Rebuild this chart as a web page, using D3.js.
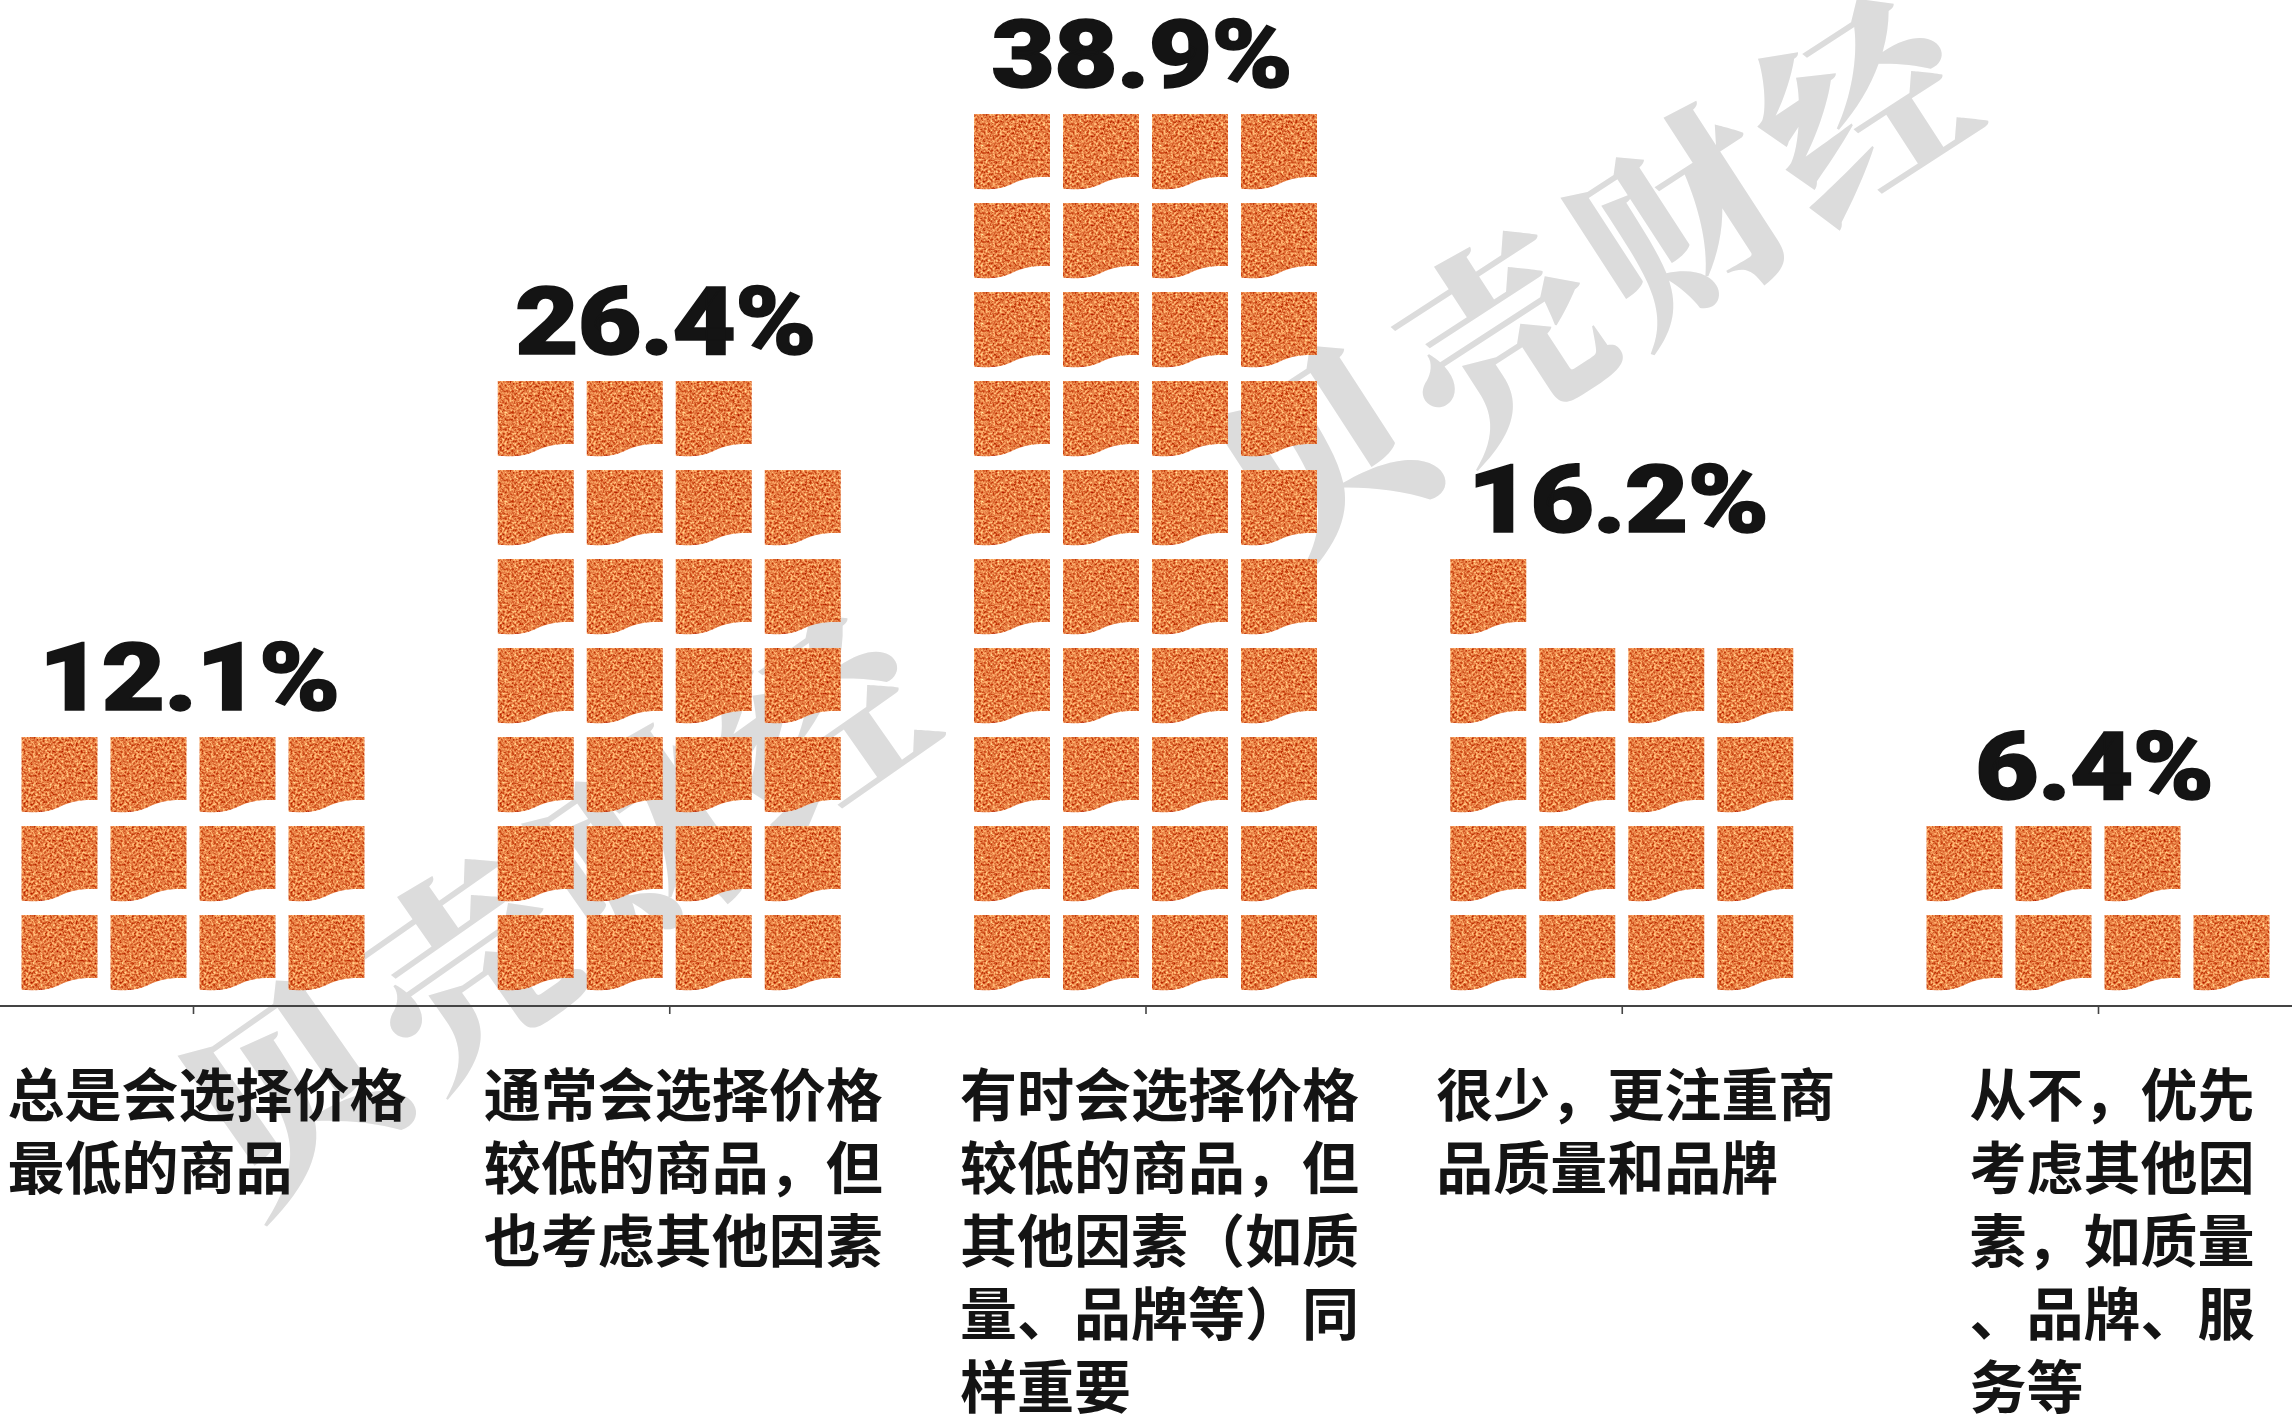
<!DOCTYPE html>
<html>
<head>
<meta charset="utf-8">
<script src="https://cdn.jsdelivr.net/npm/d3@7"></script>
<style>
  html, body { margin: 0; padding: 0; background: #fff; }
  svg { display: block; }
</style>
</head>
<body>
<div id="chart"></div>
<script>
// survey answers, share of respondents and how many tiles the original stacks
var categories = ["总是", "通常", "有时", "很少", "从不"];
var percents = [12.1, 26.4, 38.9, 16.2, 6.4];
var tileCounts = [12, 27, 40, 17, 7];
var labelLines = [
    ["总是会选择价格", "最低的商品"],
    ["通常会选择价格", "较低的商品，但", "也考虑其他因素"],
    ["有时会选择价格", "较低的商品，但", "其他因素（如质", "量、品牌等）同", "样重要"],
    ["很少，更注重商", "品质量和品牌"],
    ["从不，优先", "考虑其他因", "素，如质量", "、品牌、服", "务等"]
];
var watermarkText = "贝壳财经";

var width = 2292,
    height = 1417,
    perRow = 4,
    pitch = 89,
    tileW = 76,
    tileH = 76,
    axisY = 1006,
    firstRowTop = 915;

var svg = d3.select("#chart")
    .append("svg")
    .attr("width", width)
    .attr("height", height);

// grainy orange fill
var defs = svg.append("defs");
var filter = defs.append("filter")
    .attr("id", "grain")
    .attr("color-interpolation-filters", "sRGB")
    .attr("x", 0).attr("y", 0).attr("width", 1).attr("height", 1);
filter.append("feTurbulence")
    .attr("type", "fractalNoise")
    .attr("baseFrequency", 0.42)
    .attr("numOctaves", 2)
    .attr("seed", 7)
    .attr("result", "noise");
filter.append("feColorMatrix")
    .attr("in", "noise")
    .attr("type", "matrix")
    .attr("values",
        "0.6 0 0 0 0.6 " +
        "1.2 0 0 0 -0.11 " +
        "1.0 0 0 0 -0.24 " +
        "0 0 0 0 1")
    .attr("result", "tint");
filter.append("feComposite")
    .attr("in", "tint")
    .attr("in2", "SourceGraphic")
    .attr("operator", "in");

// watermark sits behind everything
var wm = svg.append("g").attr("class", "watermark");
[[552, 895, -35], [1589, 270, -33]].forEach(function(w) {
    wm.append("text")
        .attr("transform", "translate(" + w[0] + "," + w[1] + ") rotate(" + w[2] + ")")
        .attr("text-anchor", "middle")
        .attr("dominant-baseline", "central")
        .style("font-family", "'Noto Serif CJK SC', 'Noto Sans CJK SC', sans-serif")
        .style("font-weight", 900)
        .style("font-size", "205px")
        .style("letter-spacing", "10px")
        .attr("fill", "#dcdcdc")
        .text(watermarkText);
});

// Scales
var x = d3.scalePoint()
    .domain(categories)
    .range([193, 2098]);

var row = d3.scaleLinear()
    .domain([0, 1])
    .range([firstRowTop, firstRowTop - pitch]);

var col = d3.scaleLinear()
    .domain([0, perRow - 1])
    .range([-1.5 * pitch, 1.5 * pitch]);

// tile outline: flat top, wavy bottom that dips on the left
function tilePath(w, h) {
    return "M0,0H" + w + "V" + (h * 0.83) +
        "C" + (w * 0.78) + "," + (h * 0.82) + " " + (w * 0.64) + "," + (h * 0.85) + " " + (w * 0.5) + "," + (h * 0.92) +
        "C" + (w * 0.36) + "," + (h * 0.99) + " " + (w * 0.18) + "," + (h * 1.0) + " 0," + (h * 0.985) + "Z";
}

var tiles = [];
categories.forEach(function(c, i) {
    for (var k = 0; k < tileCounts[i]; k++) {
        tiles.push({ cat: c, r: Math.floor(k / perRow), c: k % perRow });
    }
});

svg.append("g")
    .selectAll("path")
    .data(tiles)
    .enter()
    .append("path")
    .attr("transform", function(d) {
        return "translate(" + (x(d.cat) + col(d.c) - tileW / 2) + "," + row(d.r) + ")";
    })
    .attr("d", tilePath(tileW, tileH))
    .attr("fill", "#e2743c")
    .attr("filter", "url(#grain)");

// axis line across the whole width, ticks from d3.axisBottom
svg.append("line")
    .attr("x1", 0).attr("x2", width)
    .attr("y1", axisY).attr("y2", axisY)
    .attr("stroke", "#444")
    .attr("stroke-width", 1.8);

var axis = svg.append("g")
    .attr("transform", "translate(0," + axisY + ")")
    .call(d3.axisBottom(x).tickSize(8).tickFormat(""));
axis.select(".domain").remove();
axis.selectAll(".tick line").attr("stroke", "#444").attr("stroke-width", 1.6);

// percentage labels, stretched a little to get the wide heavy look
svg.append("g")
    .selectAll("text")
    .data(categories)
    .enter()
    .append("text")
    .attr("transform", function(d, i) {
        var yy = row(Math.ceil(tileCounts[i] / perRow) - 1) - 27;
        return "translate(" + (x(d) - 4) + "," + yy + ") scale(1.17,1)";
    })
    .attr("text-anchor", "middle")
    .style("font-family", "Roboto, Inter, 'Liberation Sans', sans-serif")
    .style("font-weight", 900)
    .style("font-size", "94px")
    .style("letter-spacing", "-1px")
    .attr("fill", "#141414")
    .attr("stroke", "#141414")
    .attr("stroke-width", 1.5)
    .text(function(d, i) { return percents[i] + "%"; });

// category labels under the axis
var fs = 57, lineH = 73;
var labels = svg.append("g")
    .selectAll("text")
    .data(categories)
    .enter()
    .append("text")
    .attr("x", function(d, i) {
        var maxChars = d3.max(labelLines[i], function(l) { return l.length; });
        return x(d) - maxChars * fs / 2 + 14;
    })
    .attr("y", 1116)
    .style("font-family", "'Noto Sans CJK SC', sans-serif")
    .style("font-weight", 700)
    .style("font-size", fs + "px")
    .attr("fill", "#141414");

labels.each(function(d, i) {
    var t = d3.select(this);
    var x0 = t.attr("x");
    labelLines[i].forEach(function(line, j) {
        t.append("tspan")
            .attr("x", x0)
            .attr("dy", j === 0 ? 0 : lineH)
            .text(line);
    });
});
</script>
</body>
</html>
